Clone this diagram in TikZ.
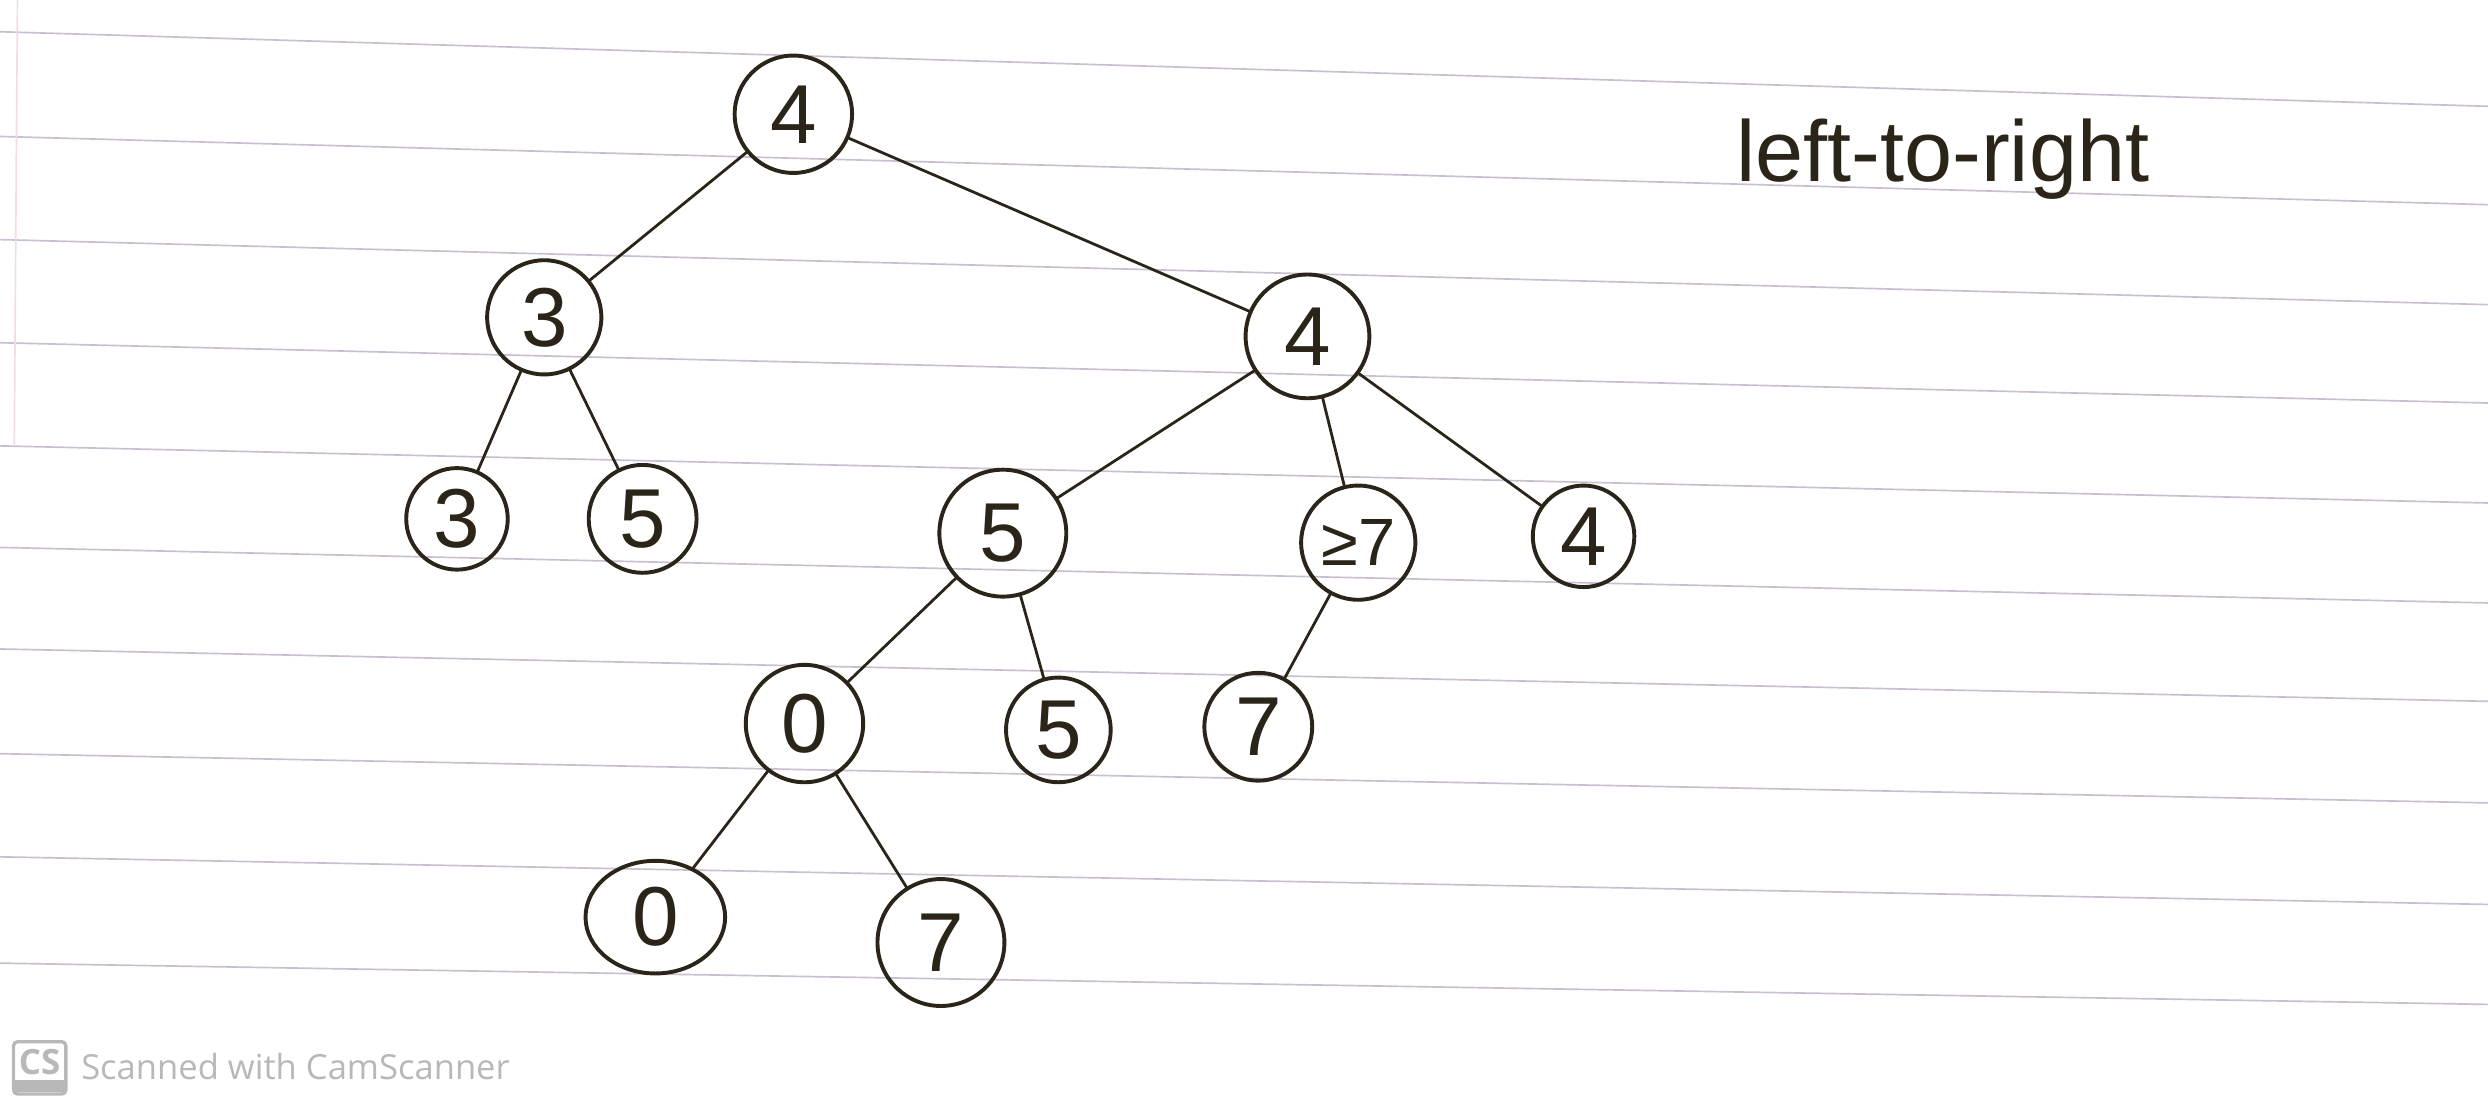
\documentclass[tikz,border=0pt]{standalone}
\usepackage{fontspec}
\setmainfont{Liberation Sans}
\newfontfamily\wmfont{Open Sans}
\usetikzlibrary{shapes.geometric}
\definecolor{ink}{HTML}{2B2418}
\definecolor{rule}{HTML}{C9BFCF}
\definecolor{margin}{HTML}{F0DDE6}
\definecolor{wm}{HTML}{B8B8B8}
\begin{document}
\begin{tikzpicture}[x=0.02cm,y=-0.02cm,
  tn/.style={circle,draw=ink,line width=1.4pt,inner sep=0pt,minimum size=#1,
    text=ink,font=\fontsize{30}{30}\selectfont},
  edge/.style={draw=ink,line width=1pt,line cap=round}]
\useasboundingbox (0,0) rectangle (1568,699);
\fill[white] (0,0) rectangle (1568,699);
% ruled paper
\foreach \a/\b in {20/67,86/129,151/192,216/254,281/317,345/380,409/442,475/506,540/570,607/633}
  \draw[rule,line width=0.6pt] (0,\a) -- (1568,\b);
\draw[margin,line width=0.6pt] (11,0) -- (9,280);
% nodes
\node[tn=1.48cm] (r)   at (500,72)  {4};
\node[tn=1.44cm] (a)   at (343,200) {3};
\node[tn=1.56cm] (b)   at (824,212) {4};
\node[tn=1.28cm] (a1)  at (288,327) {3};
\node[tn=1.36cm] (a2)  at (405,327) {5};
\node[tn=1.60cm] (b1)  at (632,336) {5};
\node[tn=1.44cm,font=\fontsize{24}{24}\selectfont] (b2) at (856,342) {≥7};
\node[tn=1.28cm] (b3)  at (998,338) {4};
\node[tn=1.48cm] (c1)  at (507,456) {0};
\node[tn=1.32cm] (c2)  at (667,460) {5};
\node[tn=1.36cm] (c3)  at (793,458) {7};
\node[ellipse,draw=ink,line width=1.4pt,inner sep=0pt,minimum width=1.76cm,minimum height=1.42cm,
  text=ink,font=\fontsize{30}{30}\selectfont] (d1) at (413,578) {0};
\node[tn=1.60cm] (d2)  at (593,594) {7};
% edges
\draw[edge] (r) -- (a);
\draw[edge] (r) -- (b);
\draw[edge] (a) -- (a1);
\draw[edge] (a) -- (a2);
\draw[edge] (b) -- (b1);
\draw[edge] (b) -- (b2);
\draw[edge] (b) -- (b3);
\draw[edge] (b1) -- (c1);
\draw[edge] (b1) -- (c2);
\draw[edge] (b2) -- (c3);
\draw[edge] (c1) -- (d1);
\draw[edge] (c1) -- (d2);
% annotation
\node[text=ink,font=\fontsize{31}{31}\selectfont,anchor=west] (t) at (1088,100) {left-to-right};
% watermark
\node[draw=wm,fill=white,line width=1.2pt,rounded corners=1.5pt,minimum width=0.66cm,minimum height=0.66cm,
  inner sep=0pt] (cs) at (25,673) {};
\fill[wm] ([xshift=-0.33cm,yshift=-0.33cm+0.6pt]cs.center) rectangle ([xshift=0.33cm,yshift=-0.15cm]cs.center);
\node[text=wm,font=\wmfont\bfseries\fontsize{12.5}{12.5}\selectfont] at ([yshift=0.07cm]cs.center) {CS};
\node[text=wm,font=\wmfont\fontsize{12.4}{12.4}\selectfont,anchor=west] (wmt) at (45,672) {Scanned with CamScanner};
\end{tikzpicture}
\end{document}
